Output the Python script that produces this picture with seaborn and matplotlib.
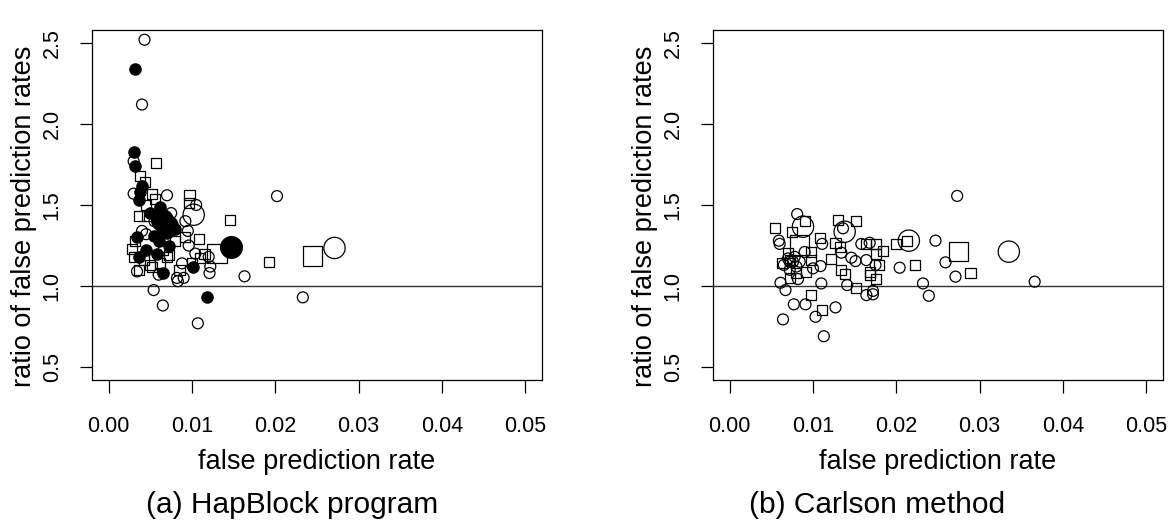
import pandas as pd
import seaborn as sns
import matplotlib
matplotlib.use("Agg")
from matplotlib import pyplot as plt

# (a) HapBlock program
hap_open_x = [0.0043, 0.0040, 0.0030, 0.0030, 0.0070, 0.0202, 0.0105, 0.0092, 0.0040, 0.0088,
              0.0122, 0.0121, 0.0034, 0.0060, 0.0082, 0.0083, 0.0163, 0.0054, 0.0065, 0.0107,
              0.0233, 0.0096, 0.0045, 0.0075, 0.0055, 0.0095, 0.0120, 0.0104, 0.0090]
hap_open_y = [2.52, 2.12, 1.77, 1.57, 1.56, 1.555, 1.50, 1.40, 1.34, 1.14,
              1.12, 1.08, 1.09, 1.07, 1.05, 1.03, 1.06, 0.975, 0.88, 0.77,
              0.93, 1.25, 1.32, 1.45, 1.40, 1.34, 1.18, 1.20, 1.05]
hap_bigopen_x = [0.0102, 0.0271]
hap_bigopen_y = [1.44, 1.235]
hap_square_x = [0.0057, 0.0038, 0.0044, 0.0052, 0.0056, 0.0097, 0.0096, 0.0146, 0.0036, 0.0046,
                0.0108, 0.0028, 0.0070, 0.0110, 0.0192, 0.0052, 0.0036, 0.0050, 0.0062, 0.0092,
                0.0072, 0.0030, 0.0045, 0.0060, 0.0080, 0.0115, 0.0100, 0.0032, 0.0065, 0.0085,
                0.0042]
hap_square_y = [1.76, 1.68, 1.64, 1.57, 1.54, 1.56, 1.51, 1.41, 1.43, 1.43,
                1.29, 1.23, 1.18, 1.17, 1.15, 1.12, 1.10, 1.13, 1.14, 1.30,
                1.19, 1.18, 1.50, 1.42, 1.28, 1.20, 1.14, 1.28, 1.22, 1.10,
                1.16]
hap_bigsquare_x = [0.0130, 0.0245]
hap_bigsquare_y = [1.20, 1.185]
hap_filled_x = [0.0032, 0.0030, 0.0032, 0.0040, 0.0038, 0.0036, 0.0062, 0.0034, 0.0054, 0.0070,
                0.0072, 0.0036, 0.0058, 0.0101, 0.0065, 0.0118, 0.0050, 0.0068, 0.0045, 0.0060,
                0.0080]
hap_filled_y = [2.34, 1.83, 1.74, 1.62, 1.58, 1.53, 1.49, 1.30, 1.31, 1.33,
                1.25, 1.18, 1.20, 1.12, 1.08, 0.93, 1.45, 1.36, 1.22, 1.28,
                1.35]
hap_bigfilled_x = [0.0064, 0.0070, 0.0147]
hap_bigfilled_y = [1.41, 1.37, 1.24]

# (b) Carlson method
carl_open_x = [0.0081, 0.0059, 0.0060, 0.0111, 0.0136, 0.0158, 0.0168, 0.0247, 0.0072, 0.0065,
               0.0076, 0.0084, 0.0100, 0.0109, 0.0134, 0.0146, 0.0151, 0.0164, 0.0175, 0.0204,
               0.0072, 0.0082, 0.0061, 0.0067, 0.0110, 0.0141, 0.0164, 0.0172, 0.0172, 0.0232,
               0.0239, 0.0077, 0.0091, 0.0103, 0.0127, 0.0064, 0.0113, 0.0273, 0.0259, 0.0271,
               0.0366, 0.0070, 0.0080, 0.0078, 0.0090]
carl_open_y = [1.444, 1.28, 1.26, 1.26, 1.356, 1.26, 1.267, 1.28, 1.15, 1.13,
               1.15, 1.15, 1.109, 1.123, 1.206, 1.175, 1.154, 1.16, 1.13, 1.113,
               1.10, 1.043, 1.02, 0.975, 1.016, 1.006, 0.944, 0.949, 0.97, 1.016,
               0.94, 0.887, 0.887, 0.81, 0.868, 0.794, 0.69, 1.556, 1.146, 1.058,
               1.027, 1.17, 1.12, 1.18, 1.21]
carl_bigopen_x = [0.0088, 0.0138, 0.0215, 0.0335]
carl_bigopen_y = [1.366, 1.335, 1.28, 1.212]
carl_square_x = [0.0090, 0.0054, 0.0075, 0.0130, 0.0152, 0.0108, 0.0127, 0.0132, 0.0164, 0.0176,
                 0.0184, 0.0200, 0.0213, 0.0070, 0.0063, 0.0098, 0.0098, 0.0092, 0.0122, 0.0179,
                 0.0222, 0.0134, 0.0138, 0.0168, 0.0168, 0.0176, 0.0072, 0.0152, 0.0098, 0.0111,
                 0.0289, 0.0072, 0.0080, 0.0176]
carl_square_y = [1.40, 1.356, 1.335, 1.407, 1.40, 1.294, 1.267, 1.24, 1.26, 1.26,
                 1.218, 1.26, 1.278, 1.206, 1.144, 1.21, 1.16, 1.088, 1.165, 1.13,
                 1.13, 1.10, 1.074, 1.088, 1.068, 1.043, 1.05, 0.99, 0.944, 0.852,
                 1.082, 1.16, 1.08, 1.20]
carl_bigsquare_x = [0.0084, 0.0275]
carl_bigsquare_y = [1.253, 1.214]

x_ticks = [0.00, 0.01, 0.02, 0.03, 0.04, 0.05]
y_ticks = [0.5, 1.0, 1.5, 2.0, 2.5]

# marker look for each kind of point (R pch 1, 0, 19 with two cex values)
kind_style = {
    "open":      dict(marker="o", s=62,  facecolor="none"),
    "bigopen":   dict(marker="o", s=235, facecolor="none"),
    "square":    dict(marker="s", s=52,  facecolor="none"),
    "bigsquare": dict(marker="s", s=190, facecolor="none"),
    "filled":    dict(marker="o", s=66,  facecolor="black"),
    "bigfilled": dict(marker="o", s=245, facecolor="black"),
}


def make_frame(groups):
    frames = []
    for kind, xs, ys in groups:
        frames.append(pd.DataFrame({"x": xs, "y": ys, "kind": kind}))
    return pd.concat(frames, ignore_index=True)


hap = make_frame([("open", hap_open_x, hap_open_y),
                  ("square", hap_square_x, hap_square_y),
                  ("filled", hap_filled_x, hap_filled_y),
                  ("bigsquare", hap_bigsquare_x, hap_bigsquare_y),
                  ("bigopen", hap_bigopen_x, hap_bigopen_y),
                  ("bigfilled", hap_bigfilled_x, hap_bigfilled_y)])
carl = make_frame([("open", carl_open_x, carl_open_y),
                   ("square", carl_square_x, carl_square_y),
                   ("bigsquare", carl_bigsquare_x, carl_bigsquare_y),
                   ("bigopen", carl_bigopen_x, carl_bigopen_y)])

sns.set_style("white")
plt.rcParams["font.family"] = ["Liberation Sans", "DejaVu Sans"]
plt.rcParams.update({"text.color": "black", "axes.labelcolor": "black",
                     "xtick.color": "black", "ytick.color": "black"})

fig = plt.figure(figsize=(11.69, 5.25), dpi=100)
W, H = 1169, 525
ax_a = fig.add_axes([92 / W, (H - 380) / H, 450 / W, 350 / H])
ax_b = fig.add_axes([713 / W, (H - 380) / H, 450 / W, 350 / H])


def draw_panel(ax, df):
    for kind, style in kind_style.items():
        sub = df[df["kind"] == kind]
        if len(sub) == 0:
            continue
        sns.scatterplot(data=sub, x="x", y="y", ax=ax, edgecolor="black",
                        linewidth=0.9, legend=False, zorder=3, **style)
    ax.axhline(1.0, color="#333333", lw=1.0, zorder=2)

    ax.set_xlim(-0.002, 0.052)
    ax.set_ylim(0.42, 2.58)
    ax.set_xticks(x_ticks)
    ax.set_xticklabels([f"{t:.2f}" for t in x_ticks])
    ax.set_yticks(y_ticks)
    ax.set_yticklabels([f"{t:.1f}" for t in y_ticks], rotation=90, va="center")
    ax.tick_params(axis="both", direction="out", length=9, width=0.9,
                   labelsize=15.5, left=True, bottom=True)
    ax.tick_params(axis="x", pad=17)
    ax.tick_params(axis="y", pad=12)

    ax.set_xlabel("false prediction rate", fontsize=19.5, va="center")
    ax.xaxis.set_label_coords(0.5, (380 - 462) / 350)
    ax.set_ylabel("ratio of false prediction rates", fontsize=19.5, va="center")
    ax.yaxis.set_label_coords((24 - 92) / 450, (380 - 216) / 350)

    for sp in ax.spines.values():
        sp.set_color("black")
        sp.set_linewidth(0.9)


draw_panel(ax_a, hap)
draw_panel(ax_b, carl)

fig.text(0.25, 1 - 505 / H, "(a) HapBlock program", ha="center", va="center", fontsize=21.5)
fig.text(0.75, 1 - 505 / H, "(b) Carlson method", ha="center", va="center", fontsize=21.5)

fig.savefig("out.png", dpi=100, facecolor="white")
